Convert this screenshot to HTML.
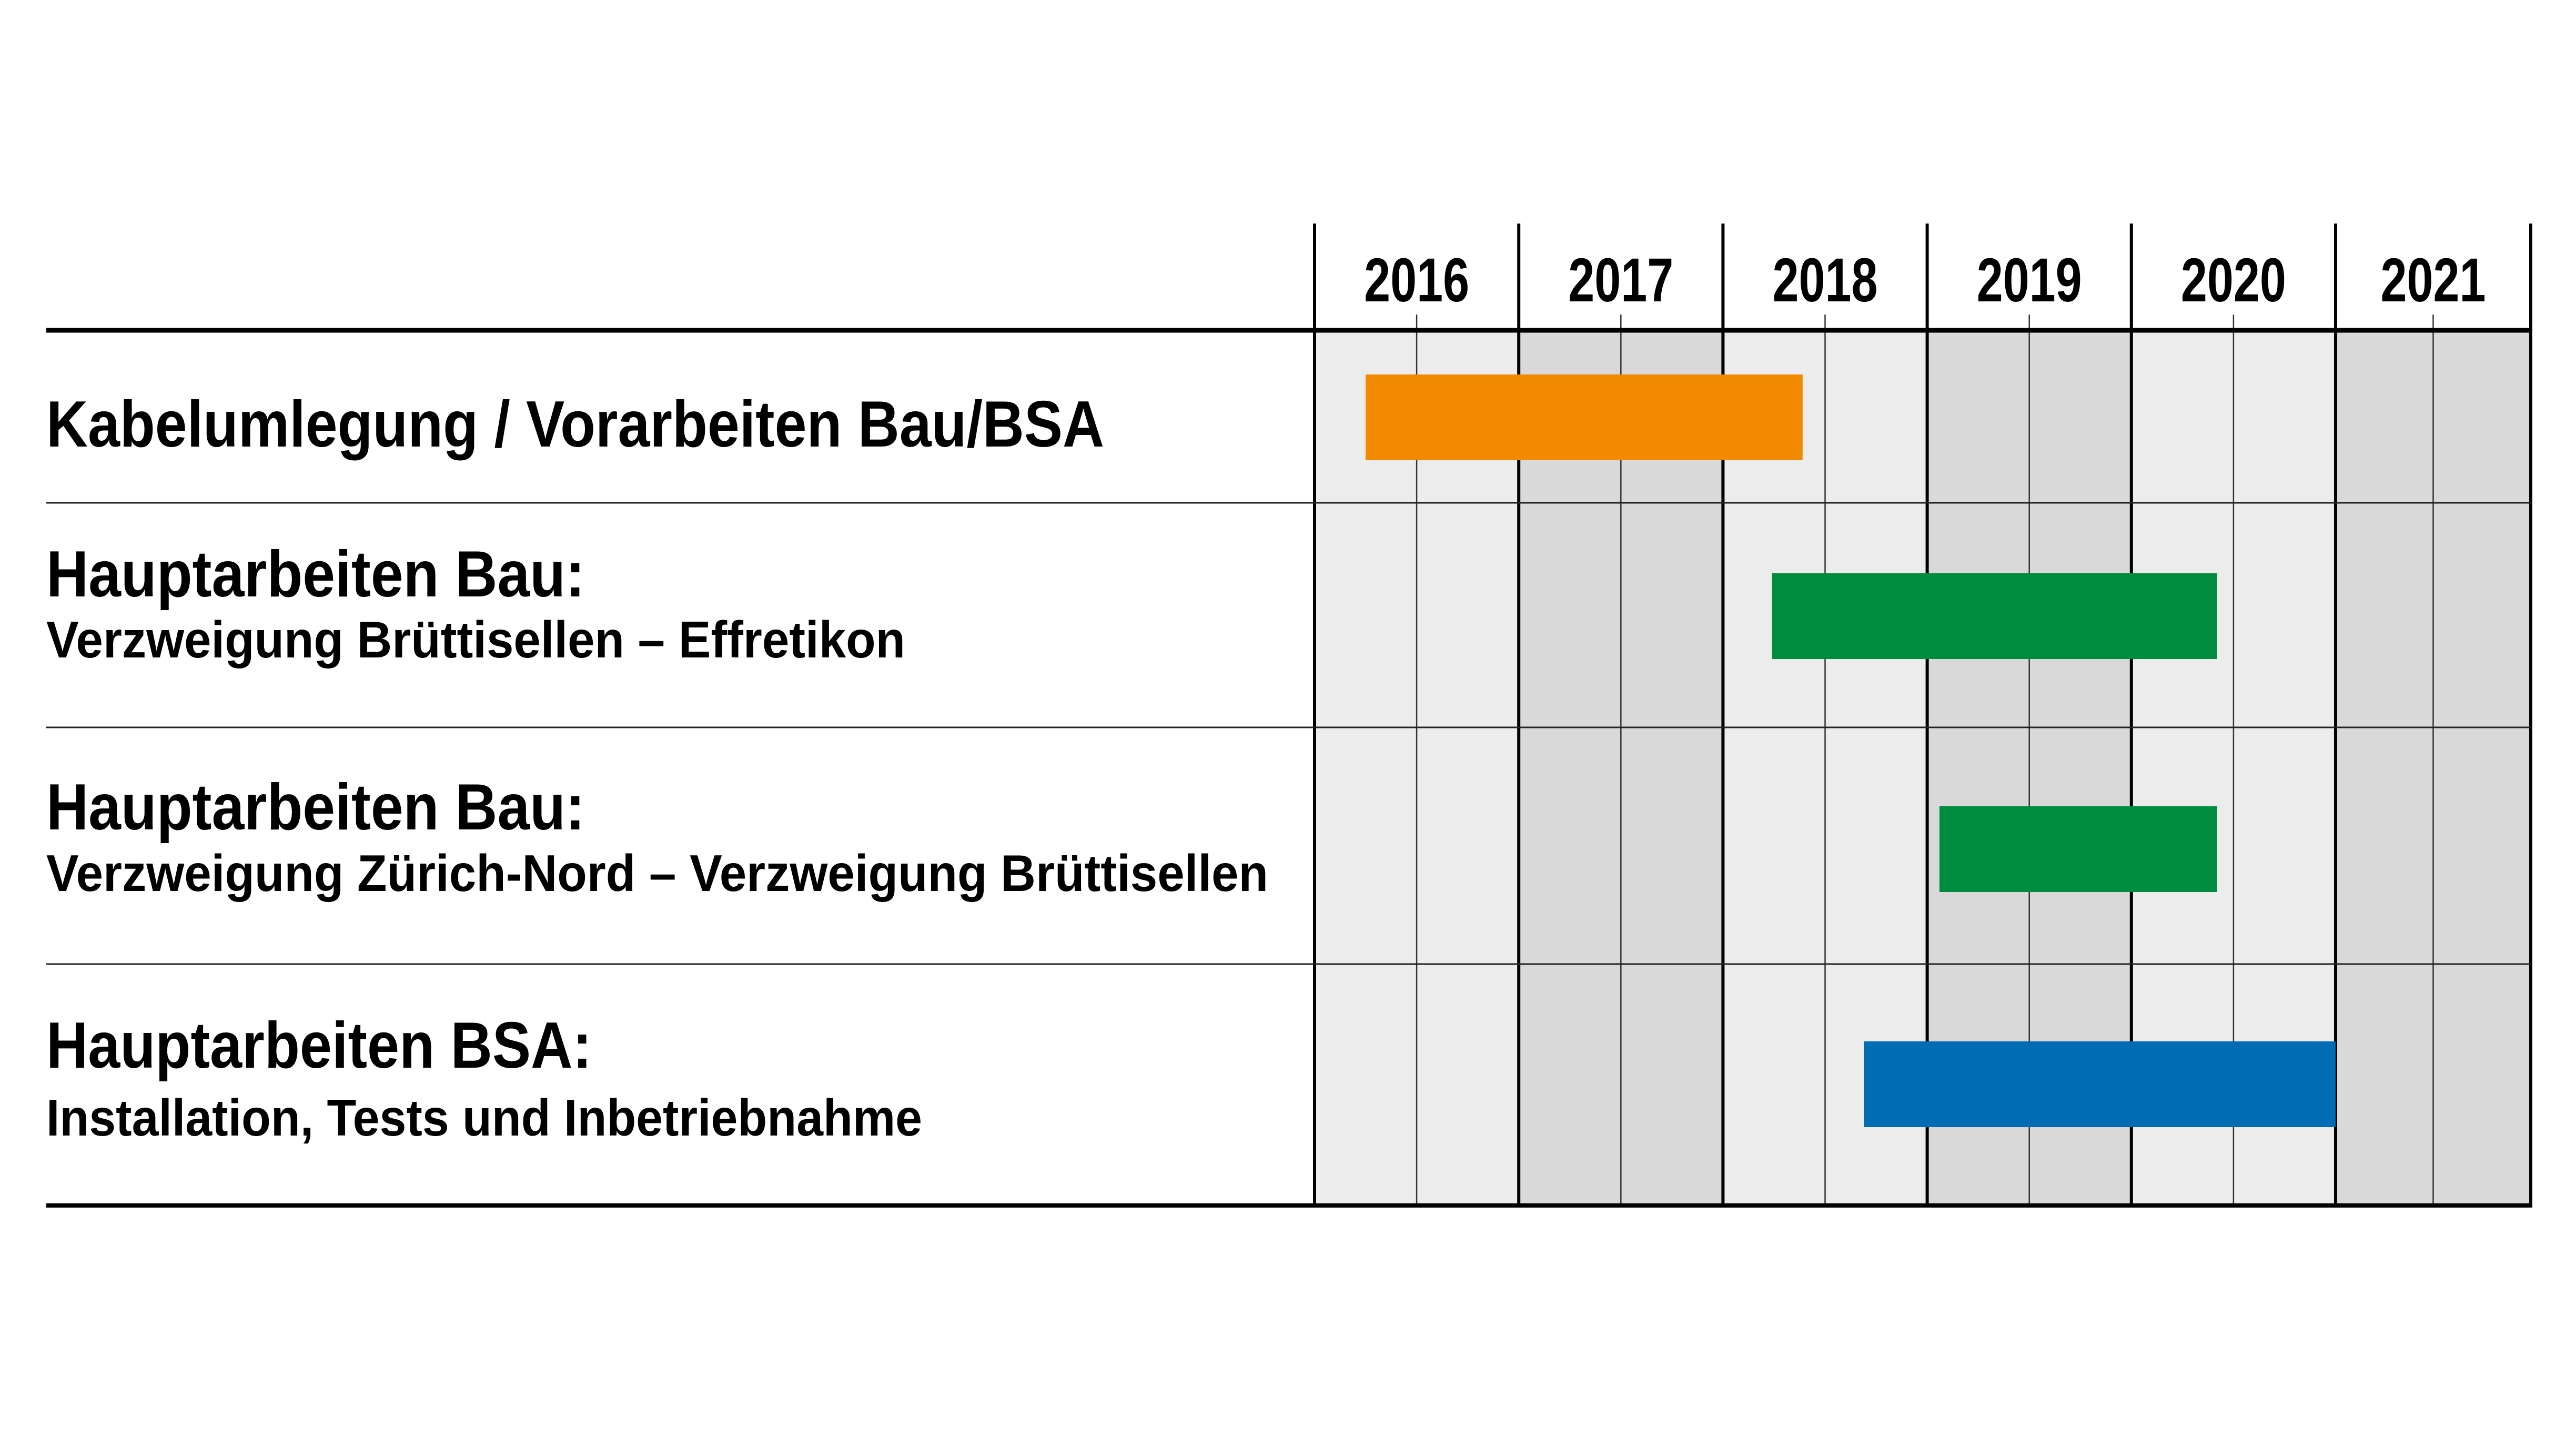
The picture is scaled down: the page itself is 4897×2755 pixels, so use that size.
<!DOCTYPE html>
<html><head><meta charset="utf-8"><style>
html,body{margin:0;padding:0;background:#fff;}
svg{display:block;}
text{font-family:"Liberation Sans Narrow","Liberation Sans",sans-serif;font-weight:bold;fill:#000;}
</style></head><body>
<svg id="chart" width="4897" height="2755" viewBox="0 0 4897 2755" xmlns="http://www.w3.org/2000/svg">
<g id="bg"></g>
<g id="grid"></g>
<g id="bars"></g>
<g id="labels"></g>
<g id="years"></g>
</svg>
<script>
const years = [2016, 2017, 2018, 2019, 2020, 2021];
const taskTitles = ["Kabelumlegung / Vorarbeiten Bau/BSA", "Hauptarbeiten Bau:", "Hauptarbeiten Bau:", "Hauptarbeiten BSA:"];
const taskSubtitles = ["", "Verzweigung Brüttisellen – Effretikon", "Verzweigung Zürich-Nord –  Verzweigung Brüttisellen", "Installation, Tests und Inbetriebnahme"];
const taskStarts = [2016.25, 2018.24, 2019.06, 2018.69];
const taskEnds = [2018.39, 2020.42, 2020.42, 2021.0];
const taskColors = ["#F18A00", "#008C3F", "#008C3F", "#006CB4"];

const NS = "http://www.w3.org/2000/svg";
const x0 = 2499, yearW = 388.2, xEnd = 4811;
const rowTops = [628, 956, 1383, 1833];
const rowBottom = 2292;
const barTops = [712, 1090, 1533, 1980];
const barH = 163;
function xScale(v){ return Math.min(x0 + (v - years[0]) * yearW, xEnd); }
function mk(tag, attrs, parent){ const e=document.createElementNS(NS,tag); for(const k in attrs) e.setAttribute(k,attrs[k]); parent.appendChild(e); return e; }

const bg = document.getElementById('bg'), grid = document.getElementById('grid'),
      bars = document.getElementById('bars'), labels = document.getElementById('labels'), yl = document.getElementById('years');

years.forEach((y,i)=>{
  const xa = xScale(y), xb = i===years.length-1 ? xEnd : xScale(y+1);
  const r = mk('rect',{x:xa,y:628,width:xb-xa,height:rowBottom-628,fill:i%2?'#D9D9D9':'#ECECEC'},bg);
  
  
  const mid = (xa+xb)/2;
  const ml = mk('line',{x1:mid,y1:598,x2:mid,y2:rowBottom,stroke:'#333','stroke-width':2.5},grid);
  
  
  const t = mk('text',{x:mid,y:573,'font-size':118,'text-anchor':'middle',textLength:200,lengthAdjust:'spacingAndGlyphs'},yl);
  t.textContent = y;
  
  
});
for(let i=0;i<=years.length;i++){
  const x = i===years.length ? xEnd : xScale(years[0]+i);
  const l = mk('line',{x1:x,y1:425,x2:x,y2:rowBottom,stroke:'#000','stroke-width':6},grid);
  
  
}
rowTops.forEach((y,i)=>{
  const l = mk('line',{x1:88,y1:y,x2:xEnd,y2:y,stroke:i===0?'#000':'#222','stroke-width':i===0?9:3},grid);
  
  
});
const bl = mk('line',{x1:88,y1:rowBottom,x2:xEnd+3,y2:rowBottom,stroke:'#000','stroke-width':8},grid);



taskStarts.forEach((s,i)=>{
  const xa = xScale(s), xb = xScale(taskEnds[i]);
  const r = mk('rect',{x:xa,y:barTops[i],width:xb-xa,height:barH,fill:taskColors[i]},bars);
  
  
});

const titleBase = [849, 1134, 1577, 2030];
const subBase = [0, 1250, 1694, 2159];
const titleLen = [2011, 1024, 1024, 1037];
const subLen = [0, 1633, 2323, 1665];
taskTitles.forEach((t,i)=>{
  const e = mk('text',{x:88,y:titleBase[i],'font-size':124,textLength:titleLen[i],lengthAdjust:'spacingAndGlyphs'},labels);
  e.textContent = t;
  
  
  if(taskSubtitles[i]){
    const s = mk('text',{x:88,y:subBase[i],'font-size':98,textLength:subLen[i],lengthAdjust:'spacingAndGlyphs'},labels);
    s.textContent = taskSubtitles[i];
    
    
  }
});
</script>
</body></html>
